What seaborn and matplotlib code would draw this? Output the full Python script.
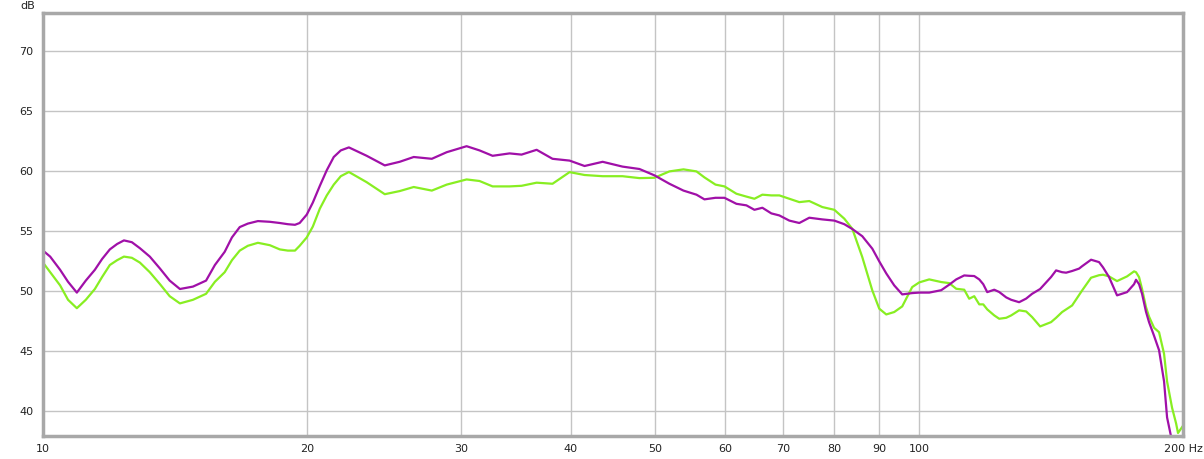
import matplotlib
matplotlib.use("Agg")
import matplotlib.pyplot as plt
import seaborn as sns
import numpy as np
import pandas as pd

# frequency points (Hz)
freq = [10.0, 10.19, 10.46, 10.68, 10.93, 11.19, 11.46, 11.68, 11.92, 12.15,
        12.37, 12.63, 12.90, 13.24, 13.60, 13.95, 14.33, 14.83, 15.35, 15.71,
        16.12, 16.43, 16.77, 17.13, 17.59, 18.15, 18.63, 19.03, 19.39, 19.63,
        20.0, 20.32, 20.70, 21.08, 21.47, 21.87, 22.34, 23.41,
        24.55, 25.53, 26.49, 27.78, 28.89, 30.44, 31.49, 32.59, 34.08, 35.17,
        36.59, 38.15, 39.90, 41.50, 43.52, 45.85, 47.94, 49.87, 51.87, 53.82,
        55.69, 56.87, 58.54, 59.94, 61.85, 63.50, 64.85, 66.22, 67.80, 69.24,
        71.08, 72.97, 74.91, 77.51, 80.0, 82.13, 83.87, 86.10, 88.40, 90.03,
        91.70, 93.64, 95.63, 98.17, 100.0, 102.66, 105.95, 108.19, 110.21, 112.55,
        114.03, 115.55, 117.08, 118.32, 119.57, 121.79, 123.39, 125.68, 127.34, 130.02,
        132.44, 134.53, 137.40, 141.41, 143.28, 145.57, 147.11, 149.45, 152.21, 153.43,
        157.08, 160.41, 162.10, 164.66, 168.17, 172.65, 175.86, 176.77, 178.19, 179.60,
        181.47, 182.92, 185.35, 187.80, 190.29, 191.80, 194.34, 196.4, 197.4, 200.0]

purple_db = [53.4, 52.9, 51.8, 50.8, 49.9, 50.9, 51.8, 52.7, 53.5, 53.95,
             54.25, 54.1, 53.6, 52.9, 51.9, 50.9, 50.2, 50.4, 50.9, 52.2,
             53.3, 54.5, 55.36, 55.65, 55.86, 55.8, 55.7, 55.6, 55.55, 55.7,
             56.4, 57.4, 58.8, 60.1, 61.2, 61.75, 62.0, 61.3,
             60.5, 60.8, 61.2, 61.05, 61.6, 62.1, 61.75, 61.3, 61.5, 61.4,
             61.8, 61.05, 60.9, 60.45, 60.8, 60.4, 60.2, 59.67, 58.97, 58.4,
             58.06, 57.67, 57.8, 57.8, 57.3, 57.17, 56.8, 56.97, 56.5, 56.33,
             55.9, 55.7, 56.14, 56.0, 55.9, 55.6, 55.2, 54.6, 53.56, 52.5,
             51.5, 50.5, 49.75, 49.86, 49.9, 49.9, 50.1, 50.56, 51.0, 51.33,
             51.3, 51.28, 51.0, 50.6, 49.94, 50.14, 49.95, 49.5, 49.3, 49.1,
             49.4, 49.8, 50.2, 51.2, 51.75, 51.6, 51.56, 51.7, 51.9, 52.1,
             52.64, 52.44, 52.0, 51.2, 49.67, 49.94, 50.6, 50.97, 50.6, 49.8,
             48.3, 47.44, 46.3, 45.1, 42.5, 39.5, 37.5, 36.0, 36.0, 37.8]

green_db = [52.4, 51.6, 50.5, 49.3, 48.6, 49.3, 50.2, 51.2, 52.2, 52.6,
            52.9, 52.8, 52.4, 51.6, 50.6, 49.6, 49.0, 49.3, 49.8, 50.8,
            51.6, 52.6, 53.4, 53.8, 54.05, 53.85, 53.5, 53.4, 53.4, 53.8,
            54.5, 55.4, 56.9, 58.0, 58.9, 59.6, 59.95, 59.1,
            58.1, 58.36, 58.7, 58.4, 58.9, 59.33, 59.2, 58.75, 58.75, 58.8,
            59.06, 58.97, 59.94, 59.7, 59.6, 59.6, 59.44, 59.47, 60.0, 60.17,
            60.0, 59.5, 58.9, 58.75, 58.14, 57.9, 57.72, 58.06, 58.0, 58.0,
            57.72, 57.44, 57.53, 57.03, 56.8, 56.06, 55.22, 52.86, 50.08, 48.56,
            48.08, 48.28, 48.75, 50.36, 50.75, 51.0, 50.78, 50.69, 50.22, 50.14,
            49.39, 49.6, 48.92, 48.92, 48.5, 48.0, 47.72, 47.8, 48.0, 48.42,
            48.33, 47.86, 47.08, 47.44, 47.8, 48.28, 48.5, 48.83, 49.7, 50.08,
            51.14, 51.35, 51.39, 51.25, 50.86, 51.25, 51.67, 51.6, 51.19, 50.2,
            48.69, 47.9, 46.97, 46.6, 44.8, 42.5, 40.3, 39.0, 38.2, 38.8]

x_ticks = [10, 20, 30, 40, 50, 60, 70, 80, 90, 100, 200]
x_tick_labels = ["10", "20", "30", "40", "50", "60", "70", "80", "90", "100", "200 Hz"]
y_ticks = [40, 45, 50, 55, 60, 65, 70]

df = pd.DataFrame({
    "freq": freq * 2,
    "db": green_db + purple_db,
    "series": ["green"] * len(freq) + ["purple"] * len(freq),
})

sns.set_style("white")
plt.rcParams['font.family'] = ['DejaVu Sans']

fig = plt.figure(figsize=(12.04, 4.59), dpi=100)
ax = fig.add_axes([43 / 1204, 1 - 436 / 459, 1140 / 1204, 423 / 459])

sns.lineplot(data=df, x="freq", y="db", hue="series",
             palette={"green": "#88EE22", "purple": "#A010A8"},
             estimator=None, sort=False, linewidth=1.6, legend=False, ax=ax)

ax.set_xscale("log")
ax.set_xlim(10, 200)
ax.set_ylim(37.95, 73.2)
ax.set_xticks(x_ticks)
ax.set_xticklabels(x_tick_labels)
ax.minorticks_off()
ax.set_yticks(y_ticks)
ax.set_yticklabels([str(v) for v in y_ticks])
ax.tick_params(axis="both", length=0, labelsize=8, colors="#222222")
ax.tick_params(axis="x", pad=6)
ax.tick_params(axis="y", pad=7)
ax.grid(True, color="#C4C4C4", linewidth=1)
ax.set_axisbelow(True)
ax.set_xlabel("")
ax.set_ylabel("")

for s in ax.spines.values():
    s.set_color("#A8A8A8")
    s.set_linewidth(2.5)

fig.text(20 / 1204, 1 - 6 / 459, "dB", fontsize=8, color="#222222", va="center")

fig.savefig("out.png", dpi=100)
